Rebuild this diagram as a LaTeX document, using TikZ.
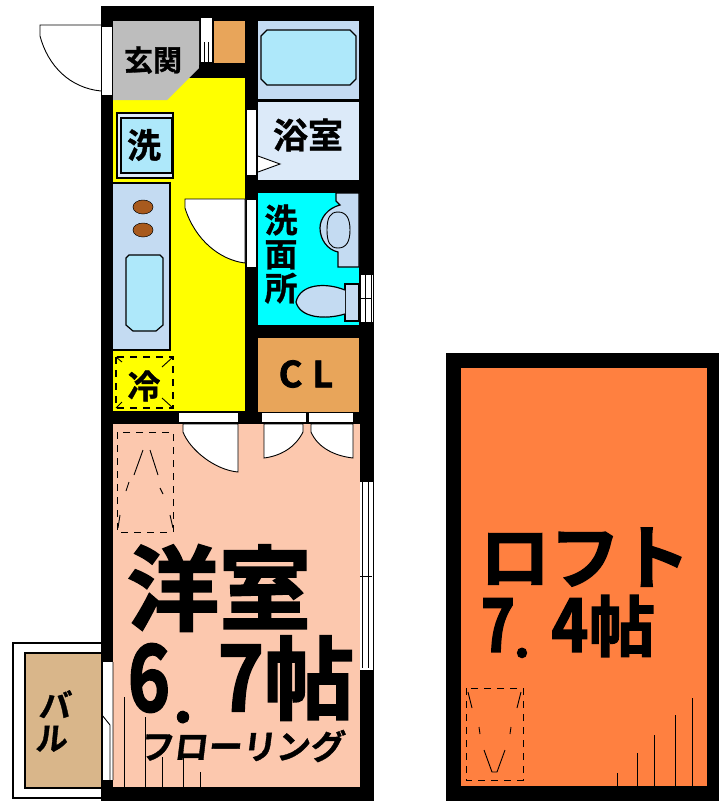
\documentclass[tikz,border=0pt]{standalone}
\usepackage{fontspec}
\setmainfont{Noto Sans CJK JP}[BoldFont={* Bold}]
\newfontfamily\heavyfont{Noto Sans CJK JP Bold}[FakeBold=2.2]
\newfontfamily\midfont{Noto Sans CJK JP Bold}[FakeBold=1]
\usetikzlibrary{shapes.geometric}
\definecolor{grayc}{HTML}{BDBDBD}
\definecolor{yellowc}{HTML}{FFFF00}
\definecolor{cupc}{HTML}{E8A55A}
\definecolor{blueA}{HTML}{C4DBF2}
\definecolor{blueB}{HTML}{AEE8FA}
\definecolor{blueC}{HTML}{DCEAF9}
\definecolor{cyanc}{HTML}{00FFFF}
\definecolor{pinkc}{HTML}{FCC8AE}
\definecolor{tanc}{HTML}{D9B68A}
\definecolor{loftc}{HTML}{FF8040}
\definecolor{brownc}{HTML}{A85A1E}
\tikzset{
 x=1pt,y=-1pt,
 wall/.style={fill=black,draw=none},
 ln/.style={draw=black,line width=1.2pt},
 thin ln/.style={draw=black,line width=0.9pt},
 opening/.style={fill=white,draw=none},
 dash box/.style={draw=black,line width=1.3pt,dash pattern=on 7pt off 6pt},
 lbl/.style={inner sep=0pt,text=black},
}
\newcommand{\txt}[4]{\node[lbl,font=\midfont\fontsize{#3}{#3}\selectfont] (#1) at #2 {#4};}
\newcommand{\bigtxt}[4]{\node[lbl,font=\heavyfont\fontsize{#3}{#3}\selectfont] (#1) at #2 {#4};}
\begin{document}
\begin{tikzpicture}
\useasboundingbox (0,0) rectangle (723,801);
\fill[white] (0,0) rectangle (723,801);
% balcony
\draw[ln,fill=white] (101,643) -- (13,643) -- (13,798) -- (101,798);
\draw[ln,fill=tanc] (101,653) -- (25,653) -- (25,788) -- (101,788);
% main walls
\fill[wall] (101,6) rectangle (374,801);
% entry door swing
\draw[thin ln] (101,25) -- (40,25) -- (40,36) .. controls (48,66) and (70,88) .. (101,91);
% rooms
\fill[yellowc] (113,78) rectangle (245,411);
\fill[grayc] (113,21) -- (199,21) -- (199,68) -- (167,100) -- (113,100) -- cycle;
\fill[cupc] (214,21) rectangle (245,63);
\fill[white] (201,18) rectangle (212,62);
\draw[thin ln] (204,62) -- (204,42) (208,62) -- (208,42) (212,21) -- (212,62);
\fill[wall] (199,65) rectangle (245,78);
\fill[blueA] (258,21) rectangle (359,99);
\draw[ln,fill=blueB] (267,30) -- (350,30) -- (356,36) -- (356,79) -- (350,85) -- (267,85) -- (261,79) -- (261,36) -- cycle;
\fill[blueC] (258,102) rectangle (359,180);
\fill[black] (258,99) rectangle (359,102);
\fill[opening] (247,110) rectangle (256,175);
\draw[thin ln,fill=white] (258,156) -- (280,164) -- (258,172);
\fill[cyanc] (258,193) rectangle (359,325);
\draw[ln,fill=blueA] (336,193) -- (336,201) -- (340,205) .. controls (328,208) and (320,218) .. (320,228) .. controls (320,240) and (328,250) .. (338,252) -- (338,267) -- (359,267) -- (359,193) -- cycle;
\draw[thin ln,fill=blueA] (338,212) .. controls (346,212) and (350,218) .. (350,230) .. controls (350,242) and (346,248) .. (338,248) .. controls (330,248) and (327,242) .. (327,230) .. controls (327,218) and (330,212) .. (338,212) -- cycle;
\fill[opening] (247,200) rectangle (256,267);
\draw[thin ln,fill=white] (245,199) -- (185,199) -- (185,208) .. controls (195,240) and (220,260) .. (245,263) -- cycle;
\draw[ln,fill=blueA] (345,284) -- (359,284) -- (359,321) -- (345,321) -- cycle;
\draw[ln,fill=blueA] (345,290) .. controls (325,282) and (300,284) .. (296,302) .. controls (300,318) and (325,320) .. (345,314);
\fill[white] (361,275) rectangle (373,322);
\draw[thin ln] (365,275) -- (365,322) (371,275) -- (371,322) (361,298) -- (372,298);
\fill[cupc] (258,338) rectangle (359,412);
\fill[pinkc] (113,424) rectangle (360,787);
% closet doors
\fill[opening] (179,413) rectangle (239,422);
\fill[opening] (262,413) rectangle (306,422);
\fill[opening] (309,413) rectangle (353,422);
\draw[thin ln,fill=white] (183,424) -- (238,424) -- (238,472) .. controls (215,470) and (190,450) .. (183,432) -- cycle;
\draw[thin ln,fill=white] (264,424) -- (303,424) -- (303,432) .. controls (295,448) and (280,456) .. (264,458) -- cycle;
\draw[thin ln,fill=white] (311,424) -- (353,424) -- (353,458) .. controls (335,456) and (318,448) .. (311,432) -- cycle;
\draw[thin ln] (238,413) -- (238,424) (306,413) -- (306,424) (353,413) -- (353,424);
% windows
\fill[opening] (360,482) rectangle (373,670);
\draw[thin ln] (362,482) -- (362,668) (368,482) -- (368,668) (360,576) -- (372,576);
\fill[opening] (102,27) rectangle (112,95);
\fill[opening] (103,662) rectangle (113,780);
\draw[thin ln] (113,662) -- (113,780) (102,715) -- (110,725) -- (110,780);
% washing machine
\draw[ln,fill=blueC] (117,113) rectangle (173,178);
\draw[line width=1.6pt,fill=blueB] (121,118) rectangle (172,173);
% kitchen
\draw[ln,fill=blueA] (113,183) -- (170,183) -- (170,350) -- (113,350);
\fill[brownc,draw=black,line width=0.5pt] (143,207) ellipse (10 and 7);
\fill[brownc,draw=black,line width=0.5pt] (143,230) ellipse (10 and 7);
\draw[ln,fill=blueB] (129,255) -- (160,255) -- (163,258) -- (163,325) -- (156,331) -- (133,331) -- (126,325) -- (126,258) -- cycle;
% fridge
\draw[dash box] (116,357) rectangle (173,408);
\draw[thin ln] (116,357) -- (122,362) (173,357) -- (162,367) (116,408) -- (122,402) (173,408) -- (162,398);
% closet in room
\draw[dash box,line width=1pt] (117,432) rectangle (173,532);
\draw[thin ln] (143,450) -- (134,475) (150,450) -- (158,475) (129,482) -- (126,491) (160,488) -- (163,494) (120,515) -- (118,528) (170,515) -- (173,528);
% flooring marks
\draw[thin ln] (124,697) -- (124,787) (145,717) -- (145,787) (162,757) -- (162,787) (183,757) -- (183,787) (200,772) -- (200,787);
% loft
\fill[wall] (446,353) rectangle (719,801);
\fill[loftc] (461,368) rectangle (707,786);
\draw[dash box,line width=1pt] (466,688) rectangle (523,780);
\draw[thin ln] (468,692) -- (472,708) (521,692) -- (517,708) (479,727) -- (480,734) (511,727) -- (510,734);
\draw[thin ln] (484,750) -- (492,772) -- (497,772) -- (505,750);
\draw[thin ln] (617,773) -- (617,786) (637,753) -- (637,786) (654,735) -- (654,786) (675,715) -- (675,786) (692,698) -- (692,786);
% labels
\txt{genkan}{(153,60)}{29}{玄関}
\txt{yokushitsu}{(308,135)}{35}{浴室}
\txt{sen}{(144,145)}{34}{洗}
\txt{reizo}{(144,386)}{33}{冷}
\node[lbl,font=\midfont\fontsize{33}{33}\selectfont,align=center] (senmen) at (281,254) {洗\\[1pt]面\\[1pt]所};
\node[lbl,font=\heavyfont\fontsize{36}{36}\selectfont] (cl) at (306,374) {C\hspace{10pt}L};
\bigtxt{yoshitsu}{(219,588)}{92}{洋室}
\node[lbl,font=\heavyfont\fontsize{92}{92}\selectfont,xscale=.78] (six) at (149,678) {6};
\node[lbl,anchor=base,font=\heavyfont\fontsize{60}{60}\selectfont] (dot) at (183,722) {.};
\node[lbl,font=\heavyfont\fontsize{92}{92}\selectfont,xscale=.85] (seven) at (241,678) {7};
\bigtxt{cho}{(309,678)}{90}{帖}
\node[lbl,font=\midfont\fontsize{34}{34}\selectfont,xslant=.12] (floor) at (243,746) {フローリング};
\node[lbl,font=\midfont\fontsize{32}{32}\selectfont,align=center,xslant=.1] (bal) at (54,721) {バ\\[1pt]ル};
\bigtxt{loft}{(585,557)}{70}{ロフト}
\node[lbl,font=\heavyfont\fontsize{74}{74}\selectfont,xscale=.78] (seven2) at (498,625) {7};
\node[lbl,anchor=base,font=\heavyfont\fontsize{50}{50}\selectfont] (dot2) at (522,657) {.};
\node[lbl,font=\heavyfont\fontsize{74}{74}\selectfont,xscale=.85] (four) at (570,625) {4};
\bigtxt{cho2}{(622,626)}{66}{帖}
\end{tikzpicture}
\end{document}
